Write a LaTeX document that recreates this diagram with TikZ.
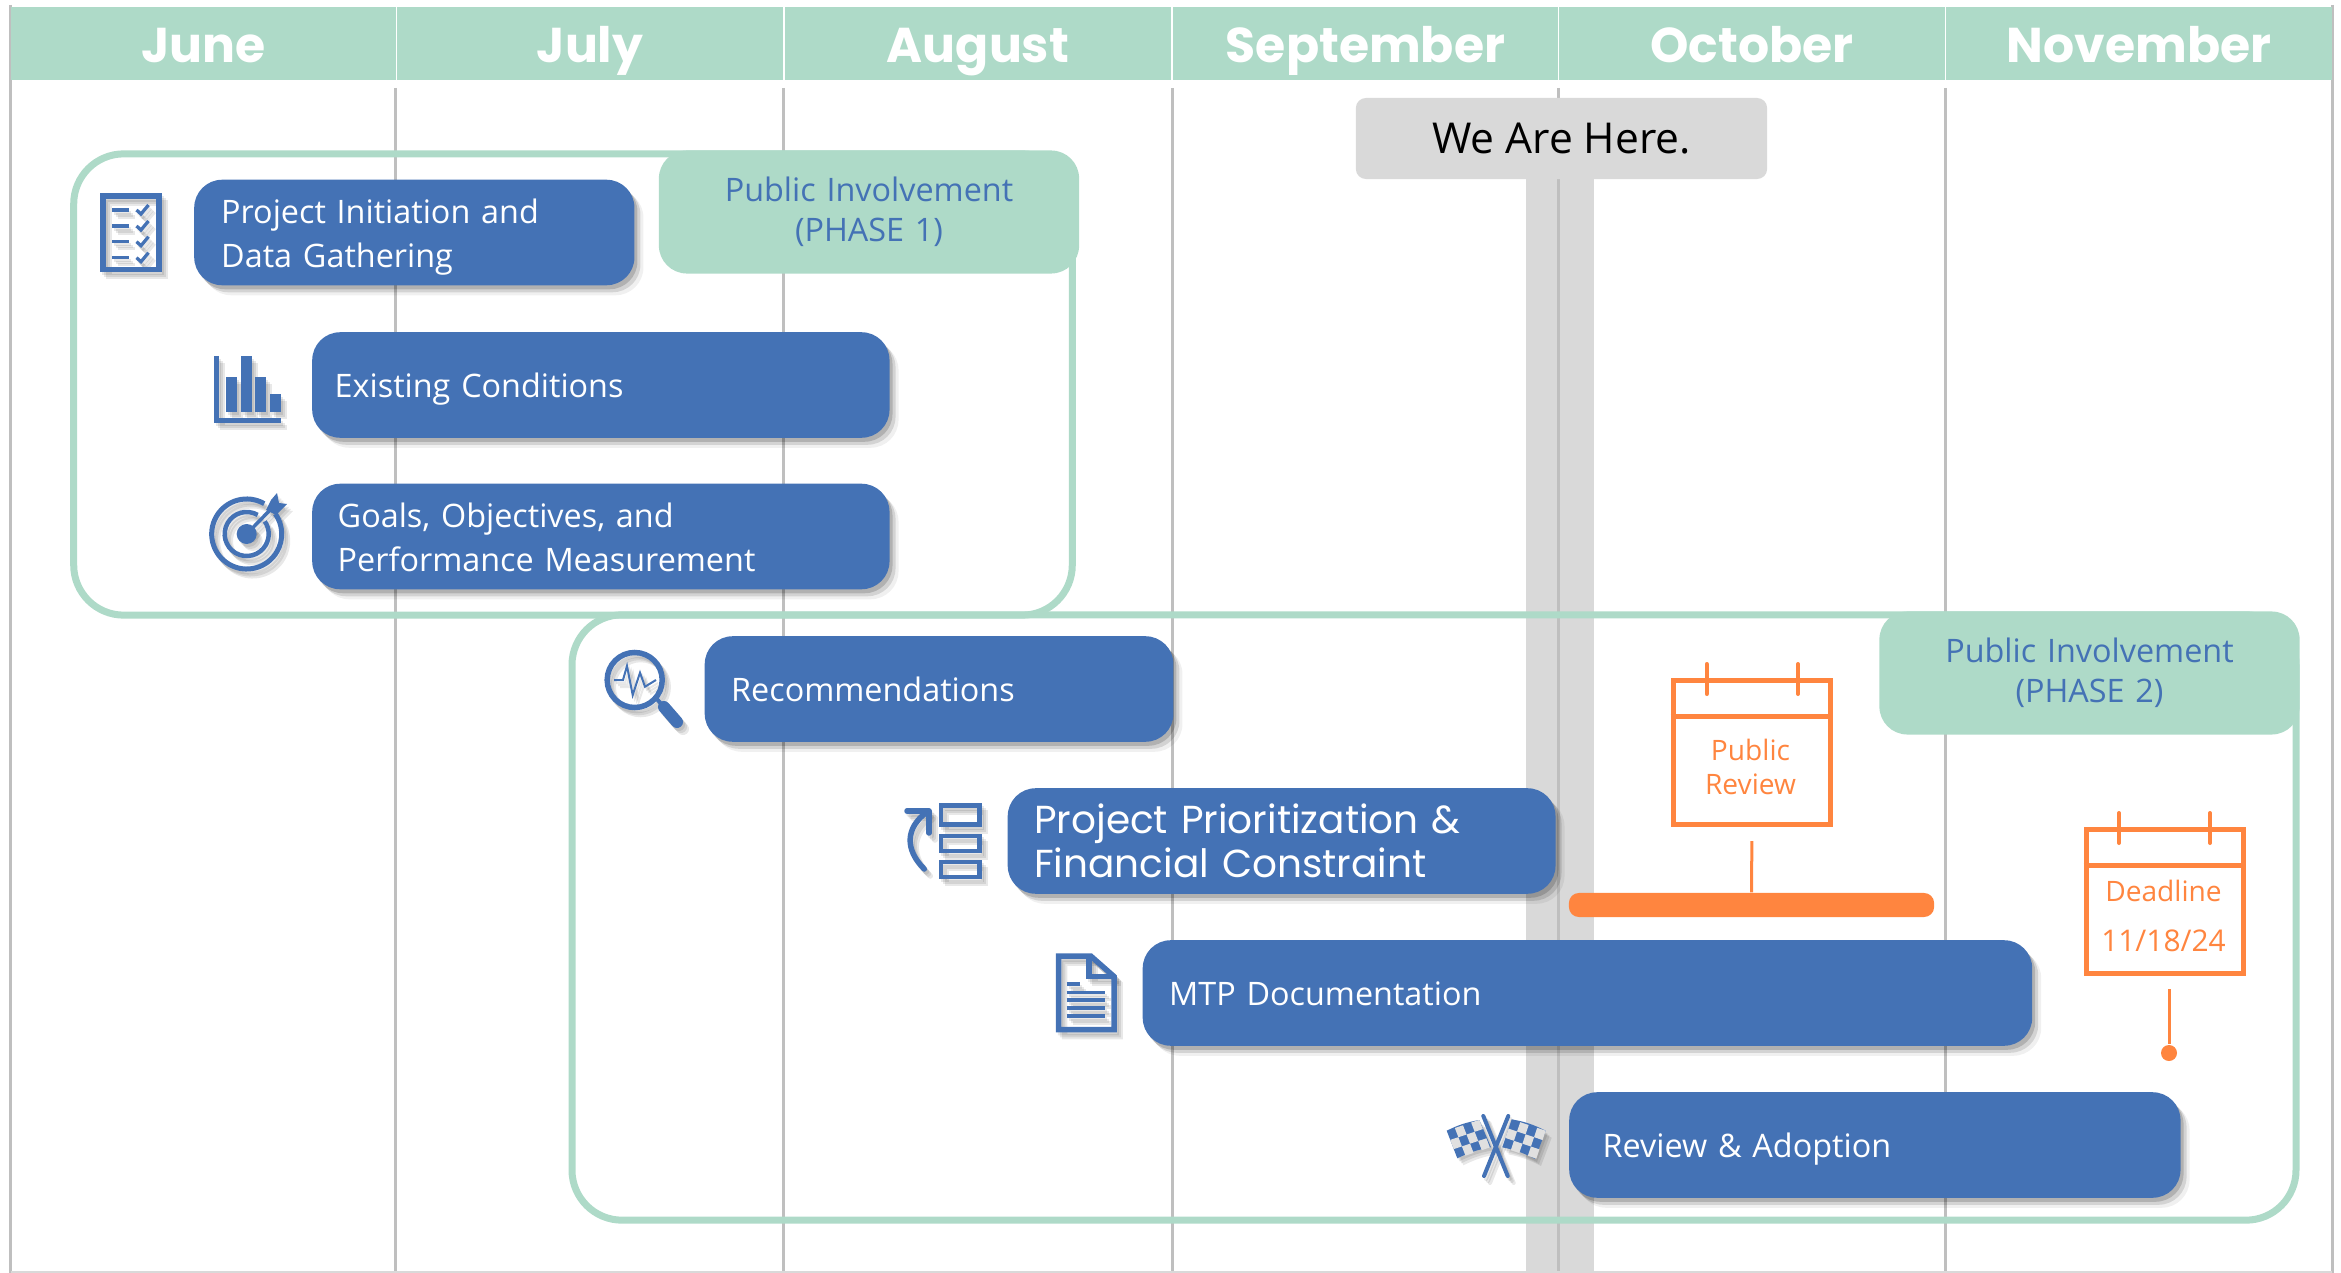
\documentclass[tikz,border=0pt]{standalone}
\usepackage{fontspec}
\setmainfont{Open Sans}
\newfontfamily\monthfont{Poppins}
\usepackage{tikz}
\usetikzlibrary{positioning,calc,shadows}
\definecolor{bandgreen}{HTML}{AEDAC8}
\definecolor{boxblue}{HTML}{4472B5}
\definecolor{markorange}{HTML}{FF853F}
\definecolor{gridgray}{HTML}{BFBFBF}
\definecolor{herebg}{HTML}{D9D9D9}
\colorlet{iconcol}{boxblue}
\tikzset{
    month/.style={
        rectangle,
        fill=bandgreen,
        minimum width=3.85cm,
        minimum height=.73cm,
        inner sep=0pt,
    },
    monthname/.style={
        anchor=base,
        text=white,
        inner sep=0pt,
        font={\monthfont\bfseries\fontsize{13.9pt}{15}\selectfont},
    },
    grid/.style={draw=gridgray, line width=.03cm},
    frame/.style={
        rectangle,
        rounded corners=.5cm,
        draw=bandgreen,
        line width=.07cm,
        inner sep=0pt,
    },
    phasetag/.style={
        rectangle,
        rounded corners=.28cm,
        fill=bandgreen,
        text=boxblue,
        align=center,
        inner sep=0pt,
        text width=4.2cm,
        minimum height=1.23cm,
        text height=7.4pt,
        text depth=13.3pt,
        font={\fontsize{9.2pt}{11.4}\selectfont},
    },
    barbox/.style 2 args={
        rectangle,
        rounded corners=.28cm,
        fill=boxblue,
        text=white,
        anchor=west,
        align=left,
        minimum height=1.055cm,
        text width=#1,
        inner xsep=#2,
        inner ysep=0pt,
        font={\fontsize{9.2pt}{12.5}\selectfont},
        drop shadow={shadow xshift=.03cm, shadow yshift=-.04cm, opacity=.16, fill=black},
        drop shadow={shadow xshift=.06cm, shadow yshift=-.07cm, opacity=.12, fill=black},
        drop shadow={shadow xshift=.09cm, shadow yshift=-.10cm, opacity=.06, fill=black},
    },
    oneline/.style={text height=7pt, text depth=0pt},
    twoline/.style={text height=7.5pt, text depth=12.5pt},
    calbox/.style={
        rectangle,
        draw=markorange,
        line width=.05cm,
        minimum width=1.575cm,
        minimum height=1.44cm,
        inner sep=0pt,
    },
    caltext/.style={
        text=markorange,
        align=center,
        inner sep=0pt,
        font={\fontsize{8pt}{9.8}\selectfont},
    },
    stem/.style={draw=markorange, line width=.03cm},
    calrule/.style={draw=markorange, line width=.05cm},
    peg/.style={draw=markorange, line width=.04cm, line cap=round},
    iconline/.style={draw=iconcol, line width=#1},
    iconfill/.style={fill=iconcol},
}
\newcommand{\flagcells}[4]{
    \foreach \u/\v in {1/0,3/0,0/1,2/1,1/2,3/2}{
        \fill[black!12] (\u*#1+\v*#3,\u*#2+\v*#4) -- (\u*#1+#1+\v*#3,\u*#2+#2+\v*#4)
            -- (\u*#1+#1+\v*#3+#3,\u*#2+#2+\v*#4+#4) -- (\u*#1+\v*#3+#3,\u*#2+\v*#4+#4) -- cycle;
    }
}
\newcommand{\drawicons}{
    % checklist
    \draw[iconline=.055cm] (103,196) rectangle (159,269.5);
    \foreach \ypos in {210,226,241.7,257.7}{
        \draw[iconline=.033cm] (112,\ypos) -- (129,\ypos);
        \draw[iconline=.033cm] (136.5,\ypos) -- (141,\ypos+4) -- (148.5,\ypos-5);
    }
    % bar chart
    \draw[iconline=.05cm] (216.5,356) -- (216.5,420.5) -- (281,420.5);
    \foreach \xa/\xb/\ytop in {226/237/377,241/252/356,255/266/377,270/281/394}{
        \fill[iconfill] (\xa,\ytop) rectangle (\xb,411.7);
    }
    % target
    \draw[iconline=.05cm] ([shift=(60:.35cm)]246.7,534) arc[start angle=60, end angle=395, radius=.35cm];
    \draw[iconline=.045cm] ([shift=(60:.22cm)]246.7,534) arc[start angle=60, end angle=395, radius=.22cm];
    \fill[iconfill] (246.7,534) circle[radius=.1cm];
    \draw[iconline=.035cm] (246.7,534) -- (272,508);
    \fill[iconfill] (271,500) -- (277,493) -- (279,503) -- (287,504) -- (276,515) -- (266,510) -- cycle;
    % magnifier
    \draw[iconline=.055cm] (634.7,680) circle[radius=.275cm];
    \draw[iconline=.02cm] (614,680) -- (623,680) -- (627,666) -- (632.7,695) -- (640,672.7) -- (645,686.7) -- (656,680);
    \draw[iconline=.04cm] (656,698) -- (663,706);
    \draw[iconline=.12cm, line cap=round] (664,707) -- (677,722);
    % list with arrow
    \foreach \ya/\yb in {805.5/824.5,836/851,862/877}{
        \draw[iconline=.045cm] (941,\ya) rectangle (979.5,\yb);
    }
    \draw[iconline=.055cm, line cap=round, line join=round] (907,811) -- (929,811) -- (929,833);
    \draw[iconline=.055cm, line cap=round] (924.3,869) .. controls (905,850) and (905,828) .. (927,812);
    % document
    \draw[iconline=.055cm, line join=miter] (1058.5,956) -- (1090.7,956) -- (1114,976.5) -- (1114,1029.5) -- (1058.5,1029.5) -- cycle;
    \draw[iconline=.055cm] (1089,955) -- (1089,976.5) -- (1115,976.5);
    \draw[iconline=.033cm] (1066.7,984) -- (1080,984);
    \foreach \ypos in {992.3,1000,1008,1016}{
        \draw[iconline=.033cm] (1066.7,\ypos) -- (1105,\ypos);
    }
    % flags
    \draw[iconline=.04cm, line cap=round] (1483.3,1116) -- (1507.7,1176);
    \draw[iconline=.04cm, line cap=round] (1508.3,1116) -- (1484,1176);
    \fill[iconfill] (1446.7,1130.7) to[bend left=8] (1479.3,1120) -- (1491,1147.3) to[bend right=8] (1457.3,1158.3) -- cycle;
    \fill[iconfill] (1511.7,1119.3) to[bend left=8] (1545.7,1130.7) -- (1535,1159) to[bend right=8] (1502.3,1147.3) -- cycle;
}
\begin{document}
\begin{tikzpicture}[x=.01cm, y=-.01cm]
\useasboundingbox (0,0) rectangle (2341,1273);
% we are here band
\fill[herebg] (1526,150) rectangle (1594,1273);
% month grid
\foreach \xpos in {395,783,1172.5,1558.5,1945}{
    \draw[grid] (\xpos,88) -- (\xpos,1273);
}
\draw[grid] (10.5,5) -- (10.5,1273);
\draw[grid] (2332,5) -- (2332,1273);
\draw[draw=herebg, line width=.02cm] (10.5,1272) -- (2332,1272);
% months
\foreach \name/\xpos in {June/203.5,July/590,August/978,September/1365.5,October/1752,November/2139}{
    \node[month] (\name) at (\xpos,43.5){};
    \node[monthname] at (\xpos,62.5){\name};
}
\node[rectangle, rounded corners=.1cm, fill=herebg, minimum width=4.11cm, minimum height=.81cm, inner sep=0pt, font={\fontsize{12.1pt}{14}\selectfont}] (here) at (1561.5,138.5){We Are Here.};
% phase frames
\node[frame, minimum width=9.98cm, minimum height=4.61cm] (phaseone) at (573,384.5){};
\node[frame, minimum width=17.23cm, minimum height=6.05cm] (phasetwo) at (1434,917.5){};
\node[phasetag] (tagone) at (869,212){Public Involvement\\(PHASE 1)};
\node[phasetag] (tagtwo) at (2089.5,673){Public Involvement\\(PHASE 2)};
% task bars
\node[barbox={3.86cm}{.27cm}, twoline] (initiation) at (193.5,232.5){Project Initiation and\\Data Gathering};
\node[barbox={5.32cm}{.225cm}, oneline] (existing) at (311.5,385){Existing Conditions};
\node[barbox={5.26cm}{.255cm}, twoline] (goals) at (311.5,536.5){Goals, Objectives, and\\Performance Measurement};
\node[barbox={4.155cm}{.265cm}, oneline] (recommend) at (704,689){Recommendations};
\node[barbox={4.945cm}{.265cm}, font={\monthfont\fontsize{11.1pt}{12.4}\selectfont}] (priority) at (1007,841){Project Prioritization \&\\Financial Constraint};
\node[barbox={8.36cm}{.265cm}, oneline] (mtpdoc) at (1142,993){MTP Documentation};
\node[barbox={5.44cm}{.335cm}, oneline] (adoption) at (1568.5,1145){Review \& Adoption};
% public review marker
\node[rectangle, rounded corners=.1cm, fill=markorange, minimum width=3.65cm, minimum height=.24cm, inner sep=0pt] (reviewbar) at (1751.5,905){};
\node[calbox] (reviewcal) at (1752,752.5){};
\node[caltext] (reviewtext) at (1750.5,767){Public\\Review};
\draw[calrule] (reviewcal.west |- 0,716) -- (reviewcal.east |- 0,716);
\draw[peg] (1706.7,664) -- (1706.7,694);
\draw[peg] (1798,664) -- (1798,694);
\draw[stem, shorten <=.14cm] (reviewcal.south) -- (reviewbar.north);
% deadline marker
\node[calbox] (deadcal) at (2165,901.5){};
\node[caltext] (deadtext) at (2163.5,890.5){Deadline};
\node[caltext, font={\fontsize{8.5pt}{9.8}\selectfont}] (deaddate) at (2163.5,941){11/18/24};
\draw[calrule] (deadcal.west |- 0,865) -- (deadcal.east |- 0,865);
\draw[peg] (2119,813) -- (2119,843);
\draw[peg] (2210,813) -- (2210,843);
\node[circle, fill=markorange, minimum size=.16cm, inner sep=0pt] (deaddot) at (2169,1053){};
\draw[stem, shorten <=.13cm] (deaddot |- deadcal.south) -- (deaddot);
% icons, shadow first
\foreach \sh in {2,4,6}{
    \begin{scope}[shift={(\sh,\sh+1)}, opacity=.09]
    \colorlet{iconcol}{black}
    \drawicons
    \end{scope}
}
\drawicons
\begin{scope}[shift={(1446.7,1130.7)}]
\flagcells{8.15}{-2.7}{3.53}{9.2}
\end{scope}
\begin{scope}[shift={(1511.7,1119.3)}]
\flagcells{8.5}{2.85}{-3.13}{9.33}
\end{scope}
\end{tikzpicture}
\end{document}
